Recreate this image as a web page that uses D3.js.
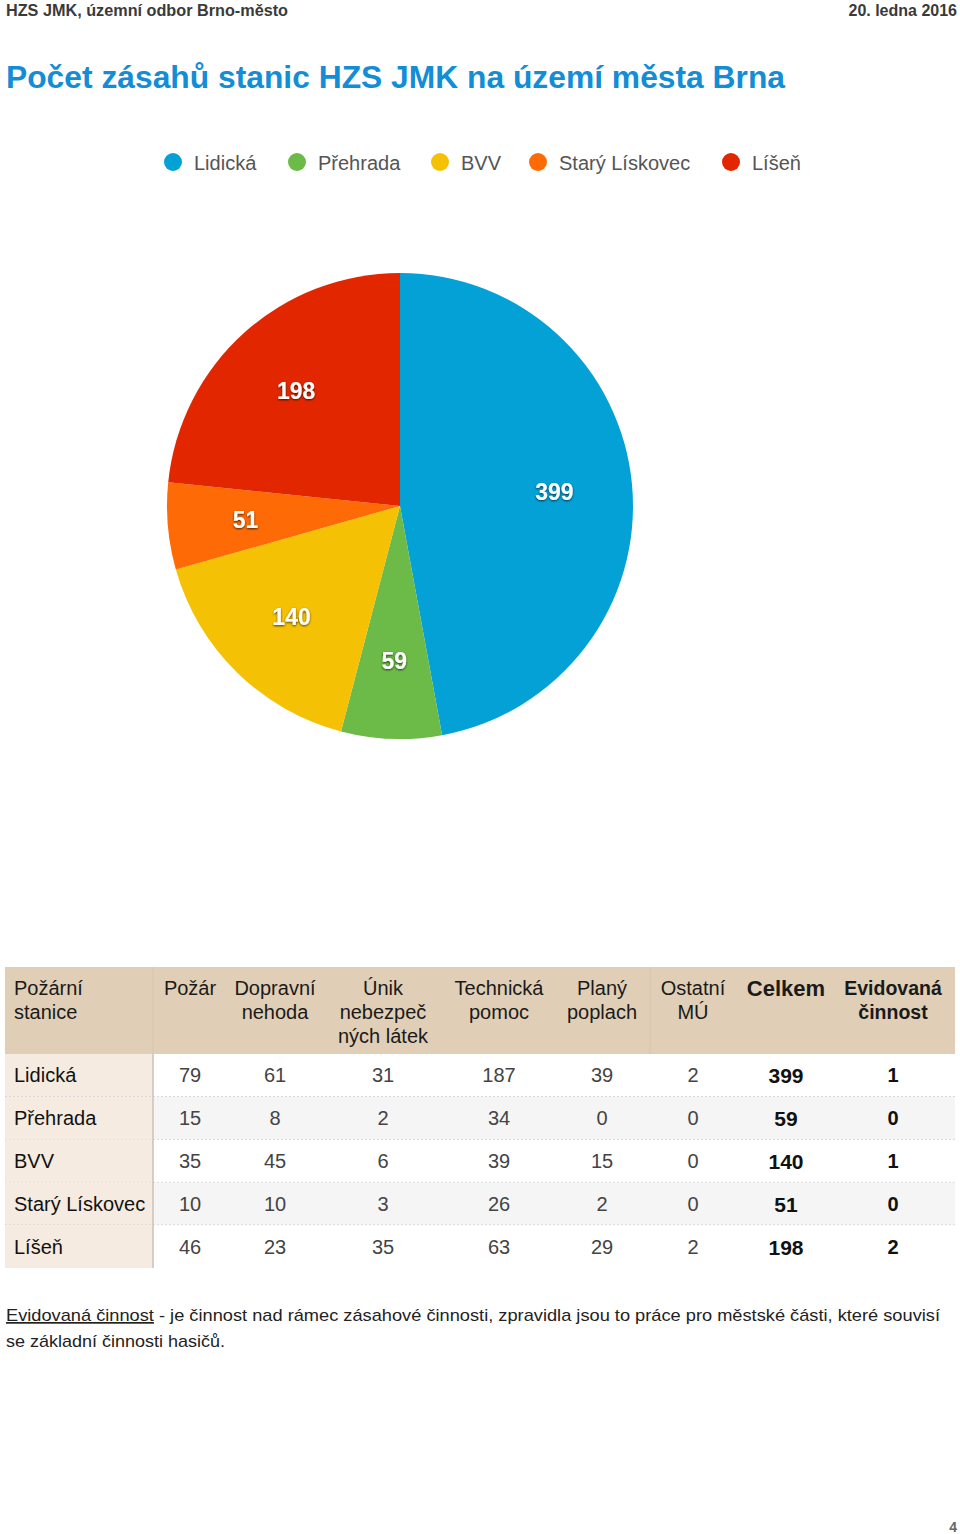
<!DOCTYPE html>
<html><head><meta charset="utf-8">
<script src="https://cdn.jsdelivr.net/npm/d3@7/dist/d3.min.js"></script>
<style>
html,body{margin:0;padding:0;background:#fff;}
svg{display:block;font-family:"Liberation Sans",Arial,Helvetica,sans-serif;}
</style></head><body>
<svg id="c" width="960" height="1534"></svg>
<script>
// ---- data ----
const stations = ["Lidická","Přehrada","BVV","Starý Lískovec","Líšeň"];
const totals = [399,59,140,51,198];
const colors = ["#04a1d6","#6cba47","#f5c105","#fe6b06","#e22700"];
const headerTitle = "HZS JMK, územní odbor Brno-město";
const headerDate = "20. ledna 2016";
const chartTitle = "Počet zásahů stanic HZS JMK na území města Brna";
const columnHeaders = [["Požární","stanice"],["Požár"],["Dopravní","nehoda"],["Únik","nebezpeč","ných látek"],["Technická","pomoc"],["Planý","poplach"],["Ostatní","MÚ"],["Celkem"],["Evidovaná","činnost"]];
const pozar = [79,15,35,10,46];
const dopravni = [61,8,45,10,23];
const unik = [31,2,6,3,35];
const technicka = [187,34,39,26,63];
const plany = [39,0,15,2,29];
const ostatni = [2,0,0,0,2];
const evidovana = [1,0,1,0,2];
const footLink = "Evidovaná činnost";
const footText1 = " - je činnost nad rámec zásahové činnosti, zpravidla jsou to práce pro městské části, které souvisí";
const footText2 = "se základní činnosti hasičů.";
const pageNo = "4";

const svg = d3.select("#c");
const defs = svg.append("defs");
const f = defs.append("filter").attr("id","sh").attr("x","-20%").attr("y","-20%").attr("width","140%").attr("height","160%");
f.append("feDropShadow").attr("dx",0).attr("dy",1).attr("stdDeviation",1).attr("flood-color","#000").attr("flood-opacity",0.7);

// header
svg.append("text").attr("x",6).attr("y",16).attr("font-size",16).attr("font-weight","bold").attr("fill","#3a3a3a")
  .attr("textLength",282).attr("lengthAdjust","spacingAndGlyphs").text(headerTitle);
svg.append("text").attr("x",957).attr("y",16).attr("text-anchor","end").attr("font-size",16).attr("font-weight","bold").attr("fill","#3a3a3a")
  .text(headerDate);
svg.append("text").attr("x",6).attr("y",88).attr("font-size",32).attr("font-weight","bold").attr("fill","#138dd6")
  .attr("textLength",779).attr("lengthAdjust","spacingAndGlyphs").text(chartTitle);

// legend
const legendX = d3.scaleOrdinal().domain(stations).range([173,297,440,538,731]);
const lg = svg.append("g").selectAll("g").data(stations).join("g")
  .attr("transform",d=>`translate(${legendX(d)},162)`);
lg.append("circle").attr("r",9).attr("fill",(d,i)=>colors[i]);
lg.append("text").attr("x",21).attr("y",7.5).attr("font-size",20).attr("fill","#555").text(d=>d);

// pie
const cx=400, cy=506, R=233;
const pie = d3.pie().sort(null).value(d=>d);
const arcs = pie(totals);
const arc = d3.arc().innerRadius(0).outerRadius(R);
const labelArc = d3.arc().innerRadius(155).outerRadius(155);
const pg = svg.append("g").attr("transform",`translate(${cx},${cy})`);
pg.selectAll("path").data(arcs).join("path").attr("d",arc).attr("fill",(d,i)=>colors[i]);
pg.selectAll("text").data(arcs).join("text")
  .attr("transform",d=>`translate(${labelArc.centroid(d)})`)
  .attr("text-anchor","middle").attr("dy","0.36em")
  .attr("font-size",23).attr("font-weight","bold").attr("fill","#fff").attr("filter","url(#sh)")
  .text(d=>d.data);

// table
const tableLeft=5, tableRight=955, headTop=967, headBottom=1054, tableBottom=1268, firstColRight=153;
const rowY = d3.scaleBand().domain(stations).range([headBottom,tableBottom]);
const colKeys = d3.range(1,9);
const colX = d3.scaleOrdinal().domain(colKeys).range([190,275,383,499,602,693,786,893]);
const cols = [pozar,dopravni,unik,technicka,plany,ostatni,totals,evidovana];

svg.append("rect").attr("x",tableLeft).attr("y",headTop).attr("width",tableRight-tableLeft).attr("height",headBottom-headTop).attr("fill","#e0cfb6");
svg.append("line").attr("x1",firstColRight).attr("x2",firstColRight).attr("y1",headTop).attr("y2",headBottom).attr("stroke","#d6c4aa");
svg.append("line").attr("x1",650).attr("x2",650).attr("y1",headTop).attr("y2",headBottom).attr("stroke","#d6c4aa");

const rows = svg.append("g").selectAll("g").data(stations).join("g");
rows.append("rect").attr("x",tableLeft).attr("y",d=>rowY(d)).attr("width",tableRight-tableLeft).attr("height",rowY.bandwidth())
  .attr("fill",(d,i)=>i%2?"#f5f5f5":"#ffffff");
rows.append("rect").attr("x",tableLeft).attr("y",d=>rowY(d)).attr("width",firstColRight-tableLeft).attr("height",rowY.bandwidth())
  .attr("fill","#f5ebe0");
rows.filter((d,i)=>i<stations.length-1).append("line")
  .attr("x1",tableLeft).attr("x2",tableRight).attr("y1",d=>rowY(d)+rowY.bandwidth()).attr("y2",d=>rowY(d)+rowY.bandwidth())
  .attr("stroke","#bbb").attr("stroke-dasharray","2,2");
svg.append("line").attr("x1",firstColRight).attr("x2",firstColRight).attr("y1",headBottom).attr("y2",tableBottom).attr("stroke","#c9c2b8").attr("stroke-width",1.5);

rows.append("text").attr("x",14).attr("y",d=>rowY(d)+rowY.bandwidth()/2+7).attr("font-size",20).attr("fill","#111").text(d=>d);
cols.forEach((arr,ci)=>{
  const bold = ci>=6;
  rows.append("text").attr("x",colX(ci+1)).attr("y",(d,i)=>rowY(d)+rowY.bandwidth()/2+7+(ci===6?1:0))
    .attr("text-anchor","middle").attr("font-size",ci===6?21:20)
    .attr("font-weight",bold?"bold":"normal").attr("fill",bold?"#111":"#444")
    .text((d,i)=>arr[i]);
});

// header texts
columnHeaders.forEach((lines,ci)=>{
  const t = svg.append("text").attr("font-size",ci===7?22:20).attr("fill","#1a1a1a")
    .attr("font-weight",ci===7?"bold":(ci===8?"600":"normal"));
  lines.forEach((ln,li)=>{
    t.append("tspan").attr("x",ci===0?14:colX(ci)).attr("y",995+li*24+(ci===7?1:0)).text(ln);
  });
  if(ci>0) t.attr("text-anchor","middle");
});
// "Evidovaná činnost" header is semi-bold: approximate with stroke
svg.selectAll("text").filter(function(){return d3.select(this).attr("font-weight")==="600";}).attr("font-weight","bold").attr("font-size",19.5);

// footnote
const ft = svg.append("text").attr("x",6).attr("y",1321).attr("font-size",17).attr("fill","#222")
  .attr("textLength",934).attr("lengthAdjust","spacingAndGlyphs");
ft.append("tspan").attr("text-decoration","underline").text(footLink);
ft.append("tspan").text(footText1);
svg.append("text").attr("x",6).attr("y",1347).attr("font-size",17).attr("fill","#222")
  .attr("textLength",219).attr("lengthAdjust","spacingAndGlyphs").text(footText2);

svg.append("text").attr("x",957).attr("y",1532).attr("text-anchor","end").attr("font-size",14).attr("font-weight","bold").attr("fill","#666").text(pageNo);
</script></body></html>
